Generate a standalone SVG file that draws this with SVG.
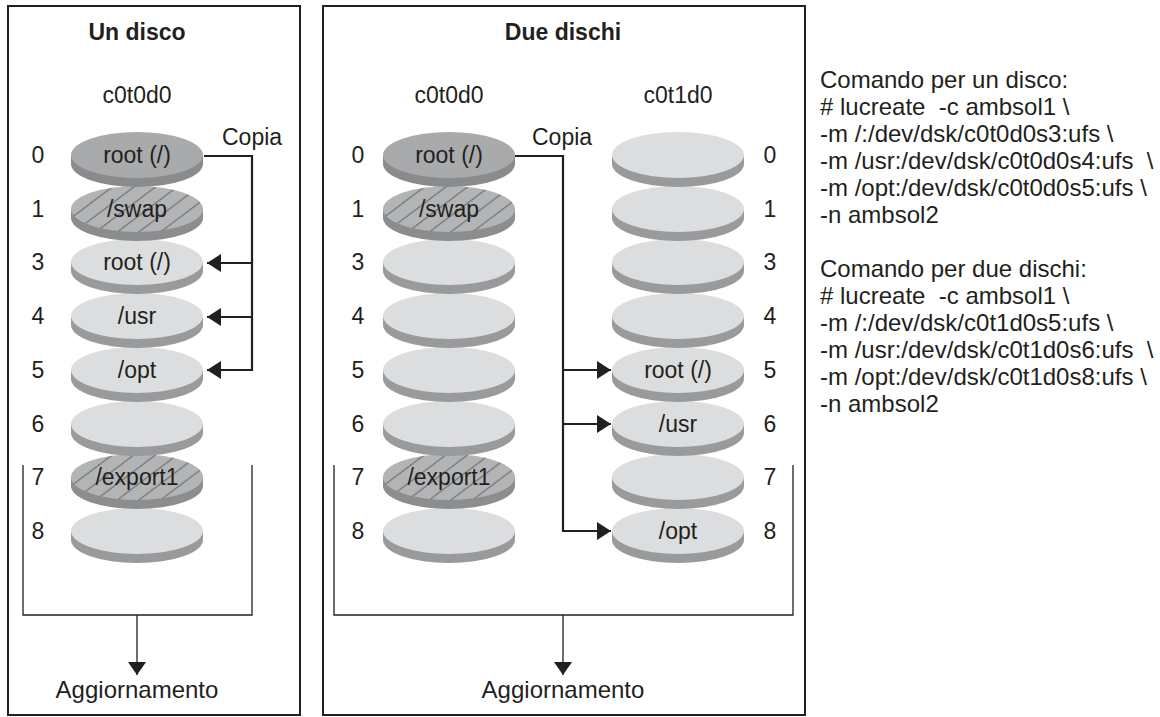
<svg xmlns="http://www.w3.org/2000/svg" xmlns:xlink="http://www.w3.org/1999/xlink" width="1160" height="717" viewBox="0 0 1160 717">
<style>
text{font-family:"Liberation Sans",Arial,sans-serif;font-size:23px;fill:#231f20}
.t{font-weight:bold}
.c{text-anchor:middle}
.ag{font-size:24px}
.frame{fill:none;stroke:#231f20;stroke-width:2}
.br{fill:none;stroke:#231f20;stroke-width:1.3}
.cp{fill:none;stroke:#231f20;stroke-width:2.2}
.dn{fill:none;stroke:#231f20;stroke-width:1.3}
.cmd{font-size:24px;white-space:pre}
</style>
<defs>
<pattern id="hatch" width="13" height="13" patternUnits="userSpaceOnUse" patternTransform="rotate(-37)">
<rect width="13" height="13" fill="#b3b4b6"/>
<line x1="0" y1="6.5" x2="13" y2="6.5" stroke="#707173" stroke-width="1.2"/>
</pattern>
<g id="dL"><ellipse cx="0" cy="9" rx="66" ry="23" fill="#999a9c"/><rect x="-66" y="0" width="132" height="9" fill="#999a9c"/><ellipse cx="0" cy="0" rx="66" ry="23" fill="#dcddde"/></g>
<g id="dR"><ellipse cx="0" cy="9" rx="66" ry="23" fill="#8a8b8d"/><rect x="-66" y="0" width="132" height="9" fill="#8a8b8d"/><ellipse cx="0" cy="0" rx="66" ry="23" fill="#a9aaac"/></g>
<g id="dH"><ellipse cx="0" cy="9" rx="66" ry="23" fill="#8c8d8f"/><rect x="-66" y="0" width="132" height="9" fill="#8c8d8f"/><ellipse cx="0" cy="0" rx="66" ry="23" fill="url(#hatch)"/></g>
<marker id="ah" markerUnits="userSpaceOnUse" markerWidth="15" markerHeight="20" refX="14" refY="9" orient="auto"><path d="M0,0 L14,9 L0,18 Z" fill="#231f20"/></marker>
<marker id="ad" markerUnits="userSpaceOnUse" markerWidth="14" markerHeight="20" refX="13" refY="9" orient="auto"><path d="M0,0 L13,9 L0,18 Z" fill="#231f20"/></marker>
</defs>

<g id="panel-un-disco">
<rect class="frame" x="8" y="6" width="292" height="709"/>
<text class="t c" x="137" y="40">Un disco</text>
<text class="c" x="137" y="103">c0t0d0</text>
<text x="222" y="145">Copia</text>
<text class="c ag" x="137" y="698">Aggiornamento</text>
</g>

<g id="disk-left-c0t0d0">
<g id="l-s8"><use xlink:href="#dL" x="137" y="531"/><text class="c" x="38" y="539">8</text></g>
<g id="l-s7"><use xlink:href="#dH" x="137" y="477"/><text class="c" x="137" y="485">/export1</text><text class="c" x="38" y="485">7</text></g>
<g id="l-s6"><use xlink:href="#dL" x="137" y="424"/><text class="c" x="38" y="432">6</text></g>
<g id="l-s5"><use xlink:href="#dL" x="137" y="370"/><text class="c" x="137" y="378">/opt</text><text class="c" x="38" y="378">5</text></g>
<g id="l-s4"><use xlink:href="#dL" x="137" y="316"/><text class="c" x="137" y="324">/usr</text><text class="c" x="38" y="324">4</text></g>
<g id="l-s3"><use xlink:href="#dL" x="137" y="262"/><text class="c" x="137" y="270">root (/)</text><text class="c" x="38" y="270">3</text></g>
<g id="l-s1"><use xlink:href="#dH" x="137" y="209"/><text class="c" x="137" y="217">/swap</text><text class="c" x="38" y="217">1</text></g>
<g id="l-s0"><use xlink:href="#dR" x="137" y="155"/><text class="c" x="137" y="163">root (/)</text><text class="c" x="38" y="163">0</text></g>
</g>

<g id="panel-due-dischi">
<rect class="frame" x="323" y="6" width="482" height="709"/>
<text class="t c" x="563" y="40">Due dischi</text>
<text class="c" x="449" y="103">c0t0d0</text>
<text class="c" x="678" y="103">c0t1d0</text>
<text x="532" y="145">Copia</text>
<text class="c ag" x="563" y="698">Aggiornamento</text>
</g>

<g id="disk-right-c0t0d0">
<g id="a-s8"><use xlink:href="#dL" x="449" y="531"/><text class="c" x="358" y="539">8</text></g>
<g id="a-s7"><use xlink:href="#dH" x="449" y="477"/><text class="c" x="449" y="485">/export1</text><text class="c" x="358" y="485">7</text></g>
<g id="a-s6"><use xlink:href="#dL" x="449" y="424"/><text class="c" x="358" y="432">6</text></g>
<g id="a-s5"><use xlink:href="#dL" x="449" y="370"/><text class="c" x="358" y="378">5</text></g>
<g id="a-s4"><use xlink:href="#dL" x="449" y="316"/><text class="c" x="358" y="324">4</text></g>
<g id="a-s3"><use xlink:href="#dL" x="449" y="262"/><text class="c" x="358" y="270">3</text></g>
<g id="a-s1"><use xlink:href="#dH" x="449" y="209"/><text class="c" x="449" y="217">/swap</text><text class="c" x="358" y="217">1</text></g>
<g id="a-s0"><use xlink:href="#dR" x="449" y="155"/><text class="c" x="449" y="163">root (/)</text><text class="c" x="358" y="163">0</text></g>
</g>

<g id="disk-right-c0t1d0">
<g id="b-s8"><use xlink:href="#dL" x="678" y="531"/><text class="c" x="678" y="539">/opt</text><text class="c" x="770" y="539">8</text></g>
<g id="b-s7"><use xlink:href="#dL" x="678" y="477"/><text class="c" x="770" y="485">7</text></g>
<g id="b-s6"><use xlink:href="#dL" x="678" y="424"/><text class="c" x="678" y="432">/usr</text><text class="c" x="770" y="432">6</text></g>
<g id="b-s5"><use xlink:href="#dL" x="678" y="370"/><text class="c" x="678" y="378">root (/)</text><text class="c" x="770" y="378">5</text></g>
<g id="b-s4"><use xlink:href="#dL" x="678" y="316"/><text class="c" x="770" y="324">4</text></g>
<g id="b-s3"><use xlink:href="#dL" x="678" y="262"/><text class="c" x="770" y="270">3</text></g>
<g id="b-s1"><use xlink:href="#dL" x="678" y="209"/><text class="c" x="770" y="217">1</text></g>
<g id="b-s0"><use xlink:href="#dL" x="678" y="155"/><text class="c" x="770" y="163">0</text></g>
</g>

<g id="connectors">
<path class="cp" d="M204,156 H252 V370 H207" marker-end="url(#ah)"/>
<path class="cp" d="M252,263 H207" marker-end="url(#ah)"/>
<path class="cp" d="M252,317 H207" marker-end="url(#ah)"/>
<path class="cp" d="M515,156 H563 V531 H611" marker-end="url(#ah)"/>
<path class="cp" d="M563,370 H611" marker-end="url(#ah)"/>
<path class="cp" d="M563,424 H611" marker-end="url(#ah)"/>
<path class="br" d="M23,465 V615 H252 V465"/>
<path class="br" d="M334,465 V615 H793 V465"/>
<path class="dn" d="M137,615 V675" marker-end="url(#ad)"/>
<path class="dn" d="M563,615 V675" marker-end="url(#ad)"/>
</g>

<g id="commands">
<text class="cmd" x="820" y="88">Comando per un disco:</text>
<text class="cmd" x="820" y="115"># lucreate  -c ambsol1 \</text>
<text class="cmd" x="820" y="142">-m /:/dev/dsk/c0t0d0s3:ufs \</text>
<text class="cmd" x="820" y="169">-m /usr:/dev/dsk/c0t0d0s4:ufs  \</text>
<text class="cmd" x="820" y="196">-m /opt:/dev/dsk/c0t0d0s5:ufs \</text>
<text class="cmd" x="820" y="223">-n ambsol2</text>
<text class="cmd" x="820" y="277">Comando per due dischi:</text>
<text class="cmd" x="820" y="304"># lucreate  -c ambsol1 \</text>
<text class="cmd" x="820" y="331">-m /:/dev/dsk/c0t1d0s5:ufs \</text>
<text class="cmd" x="820" y="358">-m /usr:/dev/dsk/c0t1d0s6:ufs  \</text>
<text class="cmd" x="820" y="385">-m /opt:/dev/dsk/c0t1d0s8:ufs \</text>
<text class="cmd" x="820" y="412">-n ambsol2</text>
</g>
</svg>
